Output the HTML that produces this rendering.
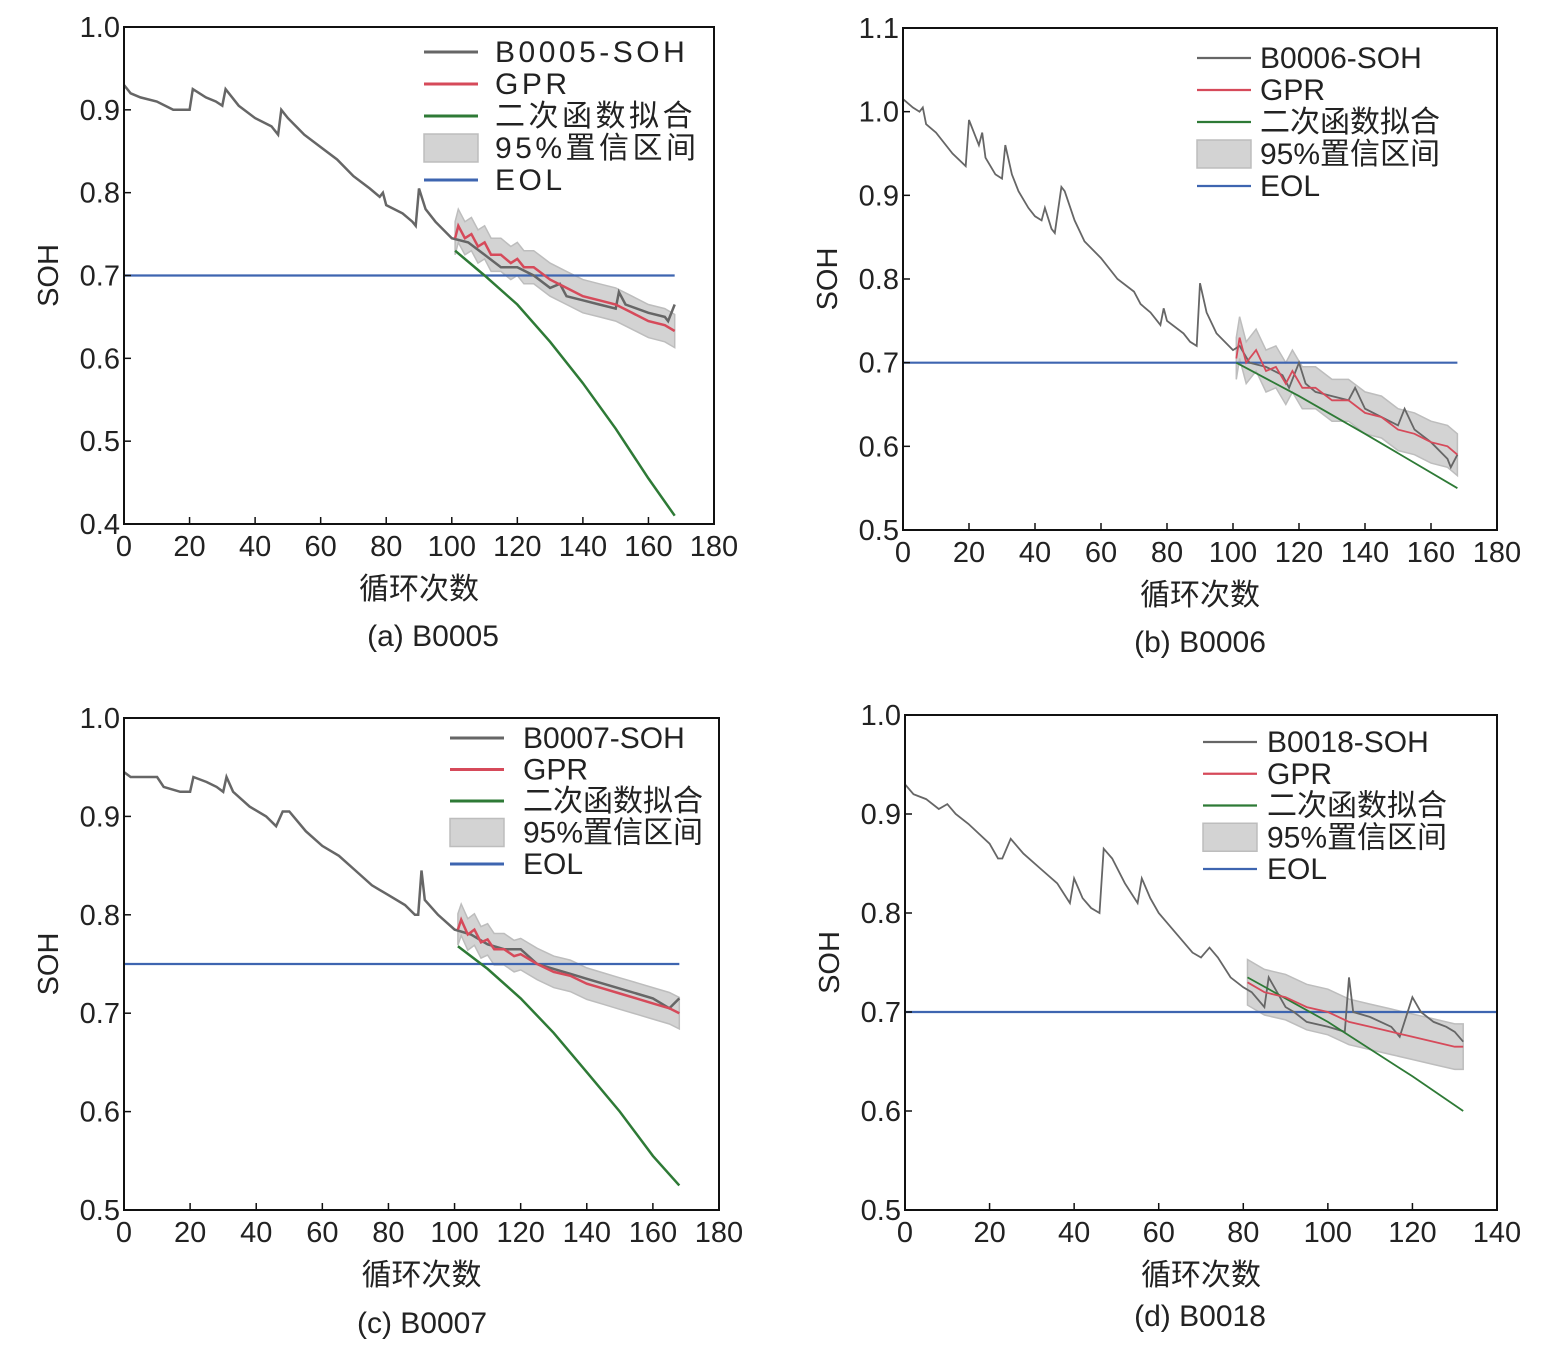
<!DOCTYPE html>
<html><head><meta charset="utf-8">
<style>
body{margin:0;background:#fff;}
svg{display:block;font-family:"Liberation Sans","Noto Sans CJK SC",sans-serif;}
</style></head>
<body>
<svg id="root" width="1557" height="1367" viewBox="0 0 1557 1367" xmlns="http://www.w3.org/2000/svg"></svg>
<script>
// ---------- DATA ----------
const aCycles=[0,2,5,10,15,20,21,25,28,30,31,35,40,45,47,48,50,55,60,65,70,75,78,79,80,85,88,89,90,92,95,100,105,110,115,120,125,130,133,135,140,145,150,151,153,160,165,166,168];
const aSoh=[0.93,0.92,0.915,0.91,0.9,0.9,0.925,0.915,0.91,0.905,0.925,0.905,0.89,0.88,0.87,0.9,0.89,0.87,0.855,0.84,0.82,0.805,0.795,0.8,0.785,0.775,0.765,0.76,0.805,0.78,0.765,0.745,0.74,0.725,0.71,0.71,0.7,0.685,0.69,0.675,0.67,0.665,0.66,0.68,0.665,0.655,0.65,0.645,0.665];
const aGprX=[101,102,104,106,108,110,112,115,118,120,122,125,130,135,140,145,150,155,160,165,168];
const aGpr=[0.745,0.76,0.745,0.75,0.735,0.74,0.725,0.725,0.715,0.72,0.71,0.71,0.695,0.685,0.675,0.67,0.665,0.655,0.645,0.64,0.633];
const aQuadX=[101,110,120,130,140,150,160,168];
const aQuad=[0.73,0.7,0.665,0.62,0.57,0.515,0.455,0.41];

const bCycles=[0,3,5,6,7,10,15,19,20,22,23,24,25,28,30,31,33,35,38,40,42,43,45,46,48,49,52,55,60,65,70,72,75,77,78,79,80,85,87,89,90,92,95,100,102,105,110,115,117,120,122,125,130,135,137,140,145,150,152,155,160,165,166,168];
const bSoh=[1.015,1.005,1.0,1.005,0.985,0.975,0.95,0.935,0.99,0.97,0.96,0.975,0.945,0.925,0.92,0.96,0.925,0.905,0.885,0.875,0.87,0.885,0.86,0.855,0.91,0.905,0.87,0.845,0.825,0.8,0.785,0.77,0.76,0.75,0.745,0.765,0.75,0.735,0.725,0.72,0.795,0.76,0.735,0.715,0.72,0.7,0.695,0.685,0.67,0.7,0.675,0.665,0.66,0.655,0.67,0.645,0.635,0.625,0.645,0.62,0.605,0.585,0.575,0.59];
const bGprX=[101,102,104,107,110,113,116,118,121,125,130,135,140,145,150,155,160,165,168];
const bGpr=[0.705,0.73,0.7,0.715,0.69,0.695,0.675,0.69,0.67,0.67,0.655,0.655,0.64,0.635,0.62,0.615,0.605,0.6,0.59];
const bQuadX=[101,120,140,168];
const bQuad=[0.7,0.66,0.615,0.55];

const cCycles=[0,2,10,12,17,20,21,25,28,30,31,33,38,43,46,48,50,55,60,65,70,75,80,85,88,89,90,91,95,100,105,110,115,120,125,130,135,140,145,150,155,160,165,168];
const cSoh=[0.945,0.94,0.94,0.93,0.925,0.925,0.94,0.935,0.93,0.925,0.94,0.925,0.91,0.9,0.89,0.905,0.905,0.885,0.87,0.86,0.845,0.83,0.82,0.81,0.8,0.8,0.845,0.815,0.8,0.785,0.78,0.77,0.765,0.765,0.75,0.745,0.74,0.735,0.73,0.725,0.72,0.715,0.705,0.715];
const cGprX=[101,102,104,106,108,110,112,115,118,120,125,130,135,140,145,150,155,160,165,168];
const cGpr=[0.785,0.795,0.78,0.785,0.772,0.775,0.765,0.765,0.758,0.76,0.75,0.742,0.738,0.73,0.725,0.72,0.715,0.71,0.705,0.7];
const cQuadX=[101,110,120,130,140,150,160,168];
const cQuad=[0.768,0.745,0.715,0.68,0.64,0.6,0.555,0.525];

const dCycles=[0,2,5,8,10,12,15,20,22,23,25,28,32,36,39,40,42,44,46,47,49,52,55,56,58,60,62,65,68,70,72,74,77,80,82,85,86,88,90,92,95,100,104,105,106,110,115,117,120,122,125,128,130,132];
const dSoh=[0.93,0.92,0.915,0.905,0.91,0.9,0.89,0.87,0.855,0.855,0.875,0.86,0.845,0.83,0.81,0.835,0.815,0.805,0.8,0.865,0.855,0.83,0.81,0.835,0.815,0.8,0.79,0.775,0.76,0.755,0.765,0.755,0.735,0.725,0.72,0.705,0.735,0.72,0.705,0.7,0.69,0.685,0.68,0.735,0.7,0.695,0.685,0.675,0.715,0.7,0.69,0.685,0.68,0.67];
const dGprX=[81,85,90,95,100,105,110,115,120,125,130,132];
const dGpr=[0.73,0.72,0.715,0.705,0.7,0.69,0.685,0.68,0.675,0.67,0.665,0.665];
const dQuadX=[81,100,120,132];
const dQuad=[0.735,0.69,0.635,0.6];

const xTicksA=[0,20,40,60,80,100,120,140,160,180];
const xTicksD=[0,20,40,60,80,100,120,140];
const yTicksA=["0.4","0.5","0.6","0.7","0.8","0.9","1.0"];
const yTicksB=["0.5","0.6","0.7","0.8","0.9","1.0","1.1"];
const yTicksC=["0.5","0.6","0.7","0.8","0.9","1.0"];

// ---------- DRAW ----------
const NS="http://www.w3.org/2000/svg";
const root=document.getElementById('root');
function mk(tag,attrs,parent){const e=document.createElementNS(NS,tag);for(const k in attrs)e.setAttribute(k,attrs[k]);(parent||root).appendChild(e);return e;}

function panel(o){
  const g=mk('g',{});
  
  
  const sx=v=>o.x0+(v-o.xmin)/(o.xmax-o.xmin)*(o.x1-o.x0);
  const sy=v=>o.y1-(v-o.ymin)/(o.ymax-o.ymin)*(o.y1-o.y0);
  const pts=(xs,ys,off)=>xs.map((x,i)=>sx(x).toFixed(1)+','+sy(ys[i]+(off||0)).toFixed(1)).join(' ');
  const up=pts(o.gx,o.gy,o.band), lo=o.gx.map((x,i)=>sx(x).toFixed(1)+','+sy(o.gy[i]-o.band).toFixed(1)).reverse().join(' ');
  const band=mk('polygon',{points:up+' '+lo,fill:'#d3d3d3',stroke:'#bdbdbd','stroke-width':1.5},g);
  
  
  const eol=mk('line',{x1:sx(0),x2:sx(o.xEnd),y1:sy(o.eol),y2:sy(o.eol),stroke:'#3e65b0','stroke-width':2.2},g);
  
  
  const soh=mk('polyline',{points:pts(o.cx,o.cy),fill:'none',stroke:'#666','stroke-width':o.lw},g);
  
  
  const quad=mk('polyline',{points:pts(o.qx,o.qy),fill:'none',stroke:'#2e7a36','stroke-width':o.lw},g);
  
  
  const gpr=mk('polyline',{points:pts(o.gx,o.gy),fill:'none',stroke:'#d64a5a','stroke-width':o.lw},g);
  
  
  const box=mk('rect',{x:o.x0,y:o.y0,width:o.x1-o.x0,height:o.y1-o.y0,fill:'none',stroke:'#111','stroke-width':2},g);
  
  
  o.xt.forEach(t=>{
    mk('line',{x1:sx(t),x2:sx(t),y1:o.y1,y2:o.y1-7,stroke:'#111','stroke-width':1.5},g);
    const tx=mk('text',{x:sx(t),y:o.y1+32,'font-size':29,'text-anchor':'middle',fill:'#222'},g);
    tx.textContent=t;
    
    
  });
  o.yt.forEach(t=>{
    const v=parseFloat(t);
    mk('line',{x1:o.x0,x2:o.x0+7,y1:sy(v),y2:sy(v),stroke:'#111','stroke-width':1.5},g);
    const tx=mk('text',{x:o.x0-4,y:sy(v)+10,'font-size':29,'text-anchor':'end',fill:'#222'},g);
    tx.textContent=t;
    
    
  });
  const yl=mk('text',{x:0,y:0,'font-size':29,'text-anchor':'middle',fill:'#222',transform:`translate(${o.x0-66},${(o.y0+o.y1)/2}) rotate(-90)`},g);
  yl.textContent='SOH';
  
  
  const xl=mk('text',{x:(o.x0+o.x1)/2,y:o.y1+75,'font-size':30,'text-anchor':'middle',fill:'#222'},g);
  xl.textContent='循环次数';
  
  
  const cap=mk('text',{x:o.capX,y:o.capY,'font-size':30,'text-anchor':'middle',fill:'#222'},g);
  cap.textContent=o.cap;
  
  
  const names=[o.name,'GPR','二次函数拟合','95%置信区间','EOL'];
  const cols=['#666','#d64a5a','#2e7a36',null,'#3e65b0'];
  names.forEach((n,i)=>{
    const y=o.ly+i*o.lstep;
    const le=mk('g',{},g);
    
    
    if(cols[i]) mk('line',{x1:o.lx,x2:o.lx+54,y1:y,y2:y,stroke:cols[i],'stroke-width':o.lw+0.5},le);
    else mk('rect',{x:o.lx,y:y-14,width:54,height:28,fill:'#d3d3d3',stroke:'#bdbdbd','stroke-width':1.5},le);
    const t=mk('text',{x:o.lx+o.tdx,y:y+10,'font-size':30,fill:'#222','letter-spacing':o.ls},le);
    t.textContent=n;
  });
}

panel({id:'a',x0:124,x1:714,y0:27,y1:524,xmin:0,xmax:180,ymin:0.4,ymax:1.0,xt:xTicksA,yt:yTicksA,
  cx:aCycles,cy:aSoh,gx:aGprX,gy:aGpr,qx:aQuadX,qy:aQuad,band:0.02,eol:0.7,xEnd:168,lw:2.5,
  name:'B0005-SOH',lx:424,ly:52,lstep:32,tdx:71,ls:3.5,cap:'(a) B0005',capX:433,capY:646});
panel({id:'b',x0:903,x1:1497,y0:28,y1:530,xmin:0,xmax:180,ymin:0.5,ymax:1.1,xt:xTicksA,yt:yTicksB,
  cx:bCycles,cy:bSoh,gx:bGprX,gy:bGpr,qx:bQuadX,qy:bQuad,band:0.025,eol:0.7,xEnd:168,lw:1.8,
  name:'B0006-SOH',lx:1197,ly:58,lstep:32,tdx:63,ls:0,cap:'(b) B0006',capX:1200,capY:652});
panel({id:'c',x0:124,x1:719,y0:718,y1:1210,xmin:0,xmax:180,ymin:0.5,ymax:1.0,xt:xTicksA,yt:yTicksC,
  cx:cCycles,cy:cSoh,gx:cGprX,gy:cGpr,qx:cQuadX,qy:cQuad,band:0.016,eol:0.75,xEnd:168,lw:2.5,
  name:'B0007-SOH',lx:450,ly:738,lstep:31.5,tdx:73,ls:0,cap:'(c) B0007',capX:422,capY:1333});
panel({id:'d',x0:905,x1:1497,y0:715,y1:1210,xmin:0,xmax:140,ymin:0.5,ymax:1.0,xt:xTicksD,yt:yTicksC,
  cx:dCycles,cy:dSoh,gx:dGprX,gy:dGpr,qx:dQuadX,qy:dQuad,band:0.023,eol:0.7,xEnd:140,lw:1.8,
  name:'B0018-SOH',lx:1203,ly:742,lstep:31.75,tdx:64,ls:0,cap:'(d) B0018',capX:1200,capY:1326});
</script>
</body></html>
